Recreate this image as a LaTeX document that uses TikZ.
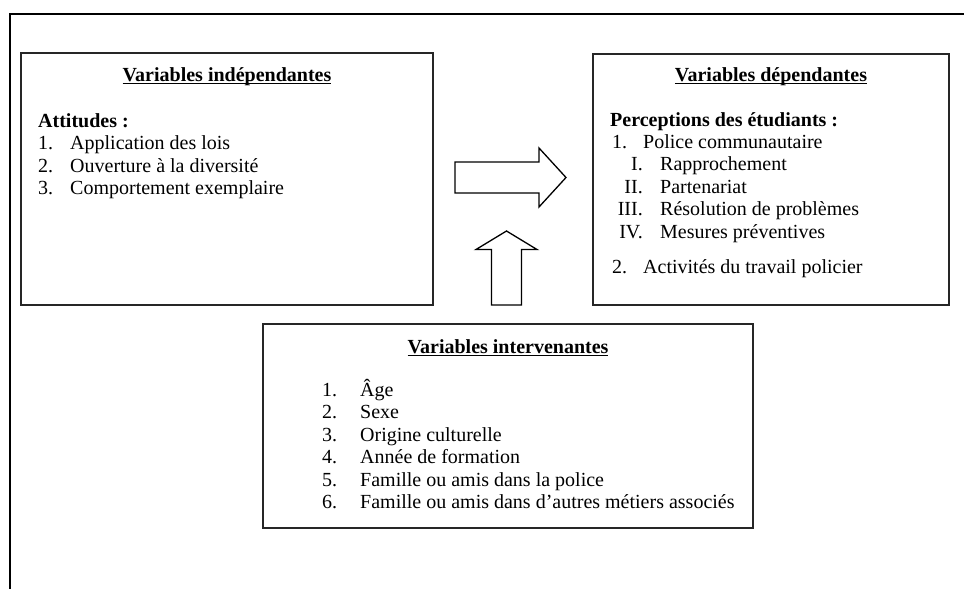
\documentclass[tikz,border=0pt]{standalone}
\usepackage{fontspec}
\setmainfont{Liberation Serif}
\newsavebox\ulbox
\newcommand\myul[1]{\sbox\ulbox{#1}\rlap{\rule[-3pt]{\wd\ulbox}{1.3pt}}\usebox\ulbox}
\begin{document}
\begin{tikzpicture}[x=1pt,y=-1pt,
  txt/.style={inner sep=0pt, font=\fontsize{20}{23}\selectfont},
  lft/.style={txt, anchor=base west},
  rgt/.style={txt, anchor=base east},
  head/.style={txt, anchor=base, font=\fontsize{20}{23}\selectfont\bfseries},
  box/.style={draw=black!85, line width=1.6pt, inner sep=0pt},
  frameline/.style={line width=2pt},
  blockarrow/.style={draw, line width=1.3pt, line join=miter, fill=white}]
\useasboundingbox (0,0) rectangle (964,589);
% outer frame
\coordinate (fbl) at (9.5,589);
\coordinate (ftl) at (9.5,13.5);
\coordinate (ftr) at (964,13.5);
\draw[frameline] (fbl) -- (ftl) -- (ftr);
% boxes
\node[box, minimum width=412, minimum height=252] (indep) at (227,179) {};
\node[box, minimum width=356, minimum height=251] (dep) at (771,179.5) {};
\node[box, minimum width=490, minimum height=204] (inter) at (508,426) {};
% block arrows
\draw[blockarrow] (455,162) -- (539,162) -- (539,148) -- (566,177.5) -- (539,207) -- (539,193) -- (455,193) -- cycle;
\draw[blockarrow] (491.5,305) -- (491.5,249.5) -- (476,249.5) -- (506.5,231) -- (537,249.5) -- (521.5,249.5) -- (521.5,305) -- cycle;
% left box text
\node[head] (h1) at (227,81) {\myul{Variables indépendantes}};
\node[lft, font=\fontsize{20}{23}\selectfont\bfseries] (att) at (38,127) {Attitudes :};
\node[lft] (a1n) at (38,149.5) {1.};
\node[lft] (a1) at (70,149.5) {Application des lois};
\node[lft] (a2n) at (38,172) {2.};
\node[lft] (a2) at (70,172) {Ouverture à la diversité};
\node[lft] (a3n) at (38,194.5) {3.};
\node[lft] (a3) at (70,194.5) {Comportement exemplaire};
% right box text
\node[head] (h2) at (771,81) {\myul{Variables dépendantes}};
\node[lft, font=\fontsize{20}{23}\selectfont\bfseries] (perc) at (610,126) {Perceptions des étudiants :};
\node[lft] (p1n) at (612,148) {1.};
\node[lft] (p1) at (643,148) {Police communautaire};
\node[rgt] (r1n) at (643,170.5) {I.};
\node[lft] (r1) at (660,170.5) {Rapprochement};
\node[rgt] (r2n) at (643,193) {II.};
\node[lft] (r2) at (660,193) {Partenariat};
\node[rgt] (r3n) at (643,215.5) {III.};
\node[lft] (r3) at (660,215.5) {Résolution de problèmes};
\node[rgt] (r4n) at (643,238) {IV.};
\node[lft] (r4) at (660,238) {Mesures préventives};
\node[lft] (p2n) at (612,273) {2.};
\node[lft] (p2) at (643,273) {Activités du travail policier};
% bottom box text
\node[head] (h3) at (508,353) {\myul{Variables intervenantes}};
\node[lft] (i1n) at (322,396) {1.};
\node[lft] (i1) at (360,396) {Âge};
\node[lft] (i2n) at (322,418.5) {2.};
\node[lft] (i2) at (360,418.5) {Sexe};
\node[lft] (i3n) at (322,441) {3.};
\node[lft] (i3) at (360,441) {Origine culturelle};
\node[lft] (i4n) at (322,463.5) {4.};
\node[lft] (i4) at (360,463.5) {Année de formation};
\node[lft] (i5n) at (322,486) {5.};
\node[lft] (i5) at (360,486) {Famille ou amis dans la police};
\node[lft] (i6n) at (322,508.5) {6.};
\node[lft] (i6) at (360,508.5) {Famille ou amis dans d’autres métiers associés};
\end{tikzpicture}
\end{document}
